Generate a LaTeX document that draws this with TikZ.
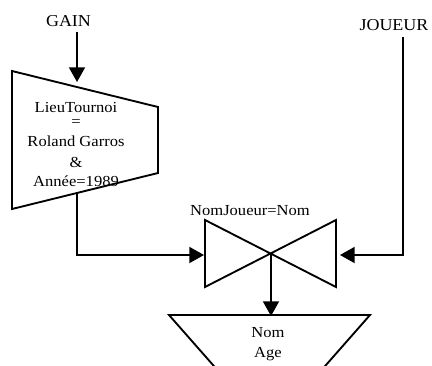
\documentclass[tikz,border=0pt]{standalone}
\usepackage{fontspec}
\setmainfont[FakeStretch=1.08]{Liberation Serif}
\usetikzlibrary{arrows.meta}

\begin{document}
\begin{tikzpicture}[x=.75pt,y=-.75pt, line width=1.4pt,
  every node/.style={font=\fontsize{11.5}{14.25}\selectfont, inner sep=0pt},
  relname/.style={font=\fontsize{12.5}{15}\selectfont},
  flow/.style={-{Triangle[length=11pt,width=12pt]}}]
  \useasboundingbox (0,0) rectangle (432,365);
  \clip (0,0) rectangle (432,365);
  \node (gain) [relname, anchor=base] at (68.5,26) {GAIN};
  \node (joueur) [relname, anchor=base] at (394,30) {JOUEUR};
  \draw (12,71) -- (158,107) -- (158,173) -- (12,209) -- cycle;
  \node (cond) [anchor=north, align=center] at (76,101)
    {LieuTournoi\\[-3.5pt]=\\[1pt]Roland Garros\\[1.5pt]\&\\Année=1989};
  \draw (205,220) -- (336,287) -- (336,220) -- (205,287) -- cycle;
  \node (jcond) [anchor=base] at (250,215) {NomJoueur=Nom};
  \draw (169,315) -- (370,315) -- (321.6,370) -- (217.4,370) -- cycle;
  \node (attr) [anchor=north, align=center, font=\fontsize{11.5}{15}\selectfont]
    at (268,327) {Nom\\Age};
  \coordinate (gfoot) at (77,32);
  \coordinate (ghead) at (77,82);
  \coordinate (sout) at (77,192);
  \coordinate (jl) at (204,255);
  \coordinate (jfoot) at (403,37);
  \coordinate (jr) at (340,255);
  \coordinate (jx) at (271,254);
  \coordinate (ptop) at (271,316);
  \draw[flow] (gfoot) -- (ghead);
  \draw[flow] (sout) |- (jl);
  \draw[flow] (jfoot) |- (jr);
  \draw[flow] (jx) -- (ptop);
\end{tikzpicture}
\end{document}
